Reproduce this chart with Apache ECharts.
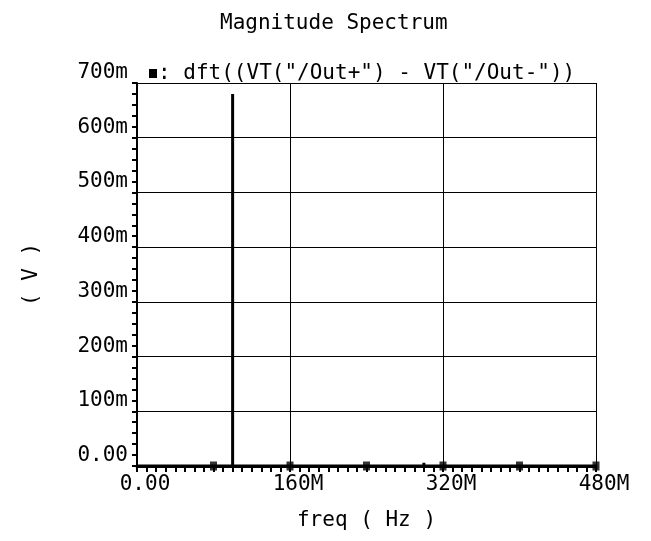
<!DOCTYPE html>
<html>
<head>
<meta charset="utf-8">
<script src="https://cdn.jsdelivr.net/npm/echarts@6/dist/echarts.min.js"></script>
<style>
html,body{margin:0;padding:0;background:#fff;}
#c{width:651px;height:541px;}
</style>
</head>
<body>
<div id="c"></div>
<script>
// ---- data (frequency in Hz, magnitude in V) ----
const traceFreq = [0, 100e6, 100e6, 100e6, 300e6, 300e6, 300e6, 480e6];
const traceMag  = [0, 0,     0.68,  0,     0,     0.006, 0,     0];
const markerFreq = [80e6, 160e6, 240e6, 320e6, 400e6, 480e6];
const markerMag  = [0, 0, 0, 0, 0, 0];
const xTicks = [0, 160e6, 320e6, 480e6];
const yTicks = [0, 0.1, 0.2, 0.3, 0.4, 0.5, 0.6, 0.7];
const seriesName = 'dft((VT("/Out+") - VT("/Out-"))';
const titleText = 'Magnitude Spectrum';
const xName = 'freq ( Hz )';
const yName = '( V )';

const FONT = 'DejaVu Sans Mono';
const chart = echarts.init(document.getElementById('c'), null, {renderer:'canvas'});

function fmtY(v){
  if (Math.abs(v) < 1e-12) return '0.00';
  return Math.round(v*1000) + 'm';
}
function fmtX(v){
  if (Math.abs(v) < 1) return '0.00';
  return Math.round(v/1e6) + 'M';
}

chart.setOption({
  animation:false,
  backgroundColor:'#fff',
  title:{
    text:titleText, left:215, top:8,
    textStyle:{fontFamily:FONT, fontSize:21, fontWeight:'normal', color:'#000'}
  },
  legend:{
    left:144, top:58, itemWidth:8, itemHeight:9, itemGap:4,
    icon:'rect',
    data:[{name:seriesName, icon:'rect'}],
    formatter: n => ': ' + n,
    textStyle:{fontFamily:FONT, fontSize:21, color:'#000', padding:[0,0,0,-4]}
  },
  grid:{left:137, right:55, top:83, bottom:75, containLabel:false},
  xAxis:{
    type:'value', min:xTicks[0], max:xTicks[xTicks.length-1], interval:xTicks[1]-xTicks[0],
    name:xName, nameLocation:'middle', nameGap:44,
    nameTextStyle:{fontFamily:FONT, fontSize:21, color:'#000'},
    axisLine:{show:true, onZero:false, lineStyle:{color:'#000', width:3}},
    axisTick:{show:true, inside:false, length:6, lineStyle:{color:'#000', width:2}},
    minorTick:{show:true, splitNumber:16, length:6, lineStyle:{color:'#000', width:2}},
    splitLine:{show:true, lineStyle:{color:'#000', width:1}},
    axisLabel:{fontFamily:FONT, fontSize:21, color:'#000', margin:8, formatter:fmtX, padding:[0,0,0,16]}
  },
  yAxis:{
    type:'value', min:yTicks[0], max:yTicks[yTicks.length-1], interval:yTicks[1]-yTicks[0],
    name:yName, nameLocation:'middle', nameGap:95, nameRotate:90,
    nameTextStyle:{fontFamily:FONT, fontSize:21, color:'#000'},
    axisLine:{show:true, lineStyle:{color:'#000', width:2}},
    axisTick:{show:true, inside:false, length:5, lineStyle:{color:'#000', width:2}},
    minorTick:{show:true, splitNumber:5, length:5, lineStyle:{color:'#000', width:2}},
    splitLine:{show:true, lineStyle:{color:'#000', width:1}},
    axisLabel:{fontFamily:FONT, fontSize:21, color:'#000', margin:9, formatter:fmtY, verticalAlign:'bottom'}
  },
  series:[
    {
      name:seriesName, type:'line', showSymbol:false, symbol:'rect', symbolSize:8,
      lineStyle:{color:'#000', width:3}, itemStyle:{color:'#000'},
      data: traceFreq.map((f,i)=>[f, traceMag[i]])
    },
    {
      name:seriesName+'_markers', type:'scatter', symbol:'rect', symbolSize:[7,9],
      itemStyle:{color:'#000'},
      data: markerFreq.map((f,i)=>[f, markerMag[i]])
    }
  ]
});
</script>
</body>
</html>
